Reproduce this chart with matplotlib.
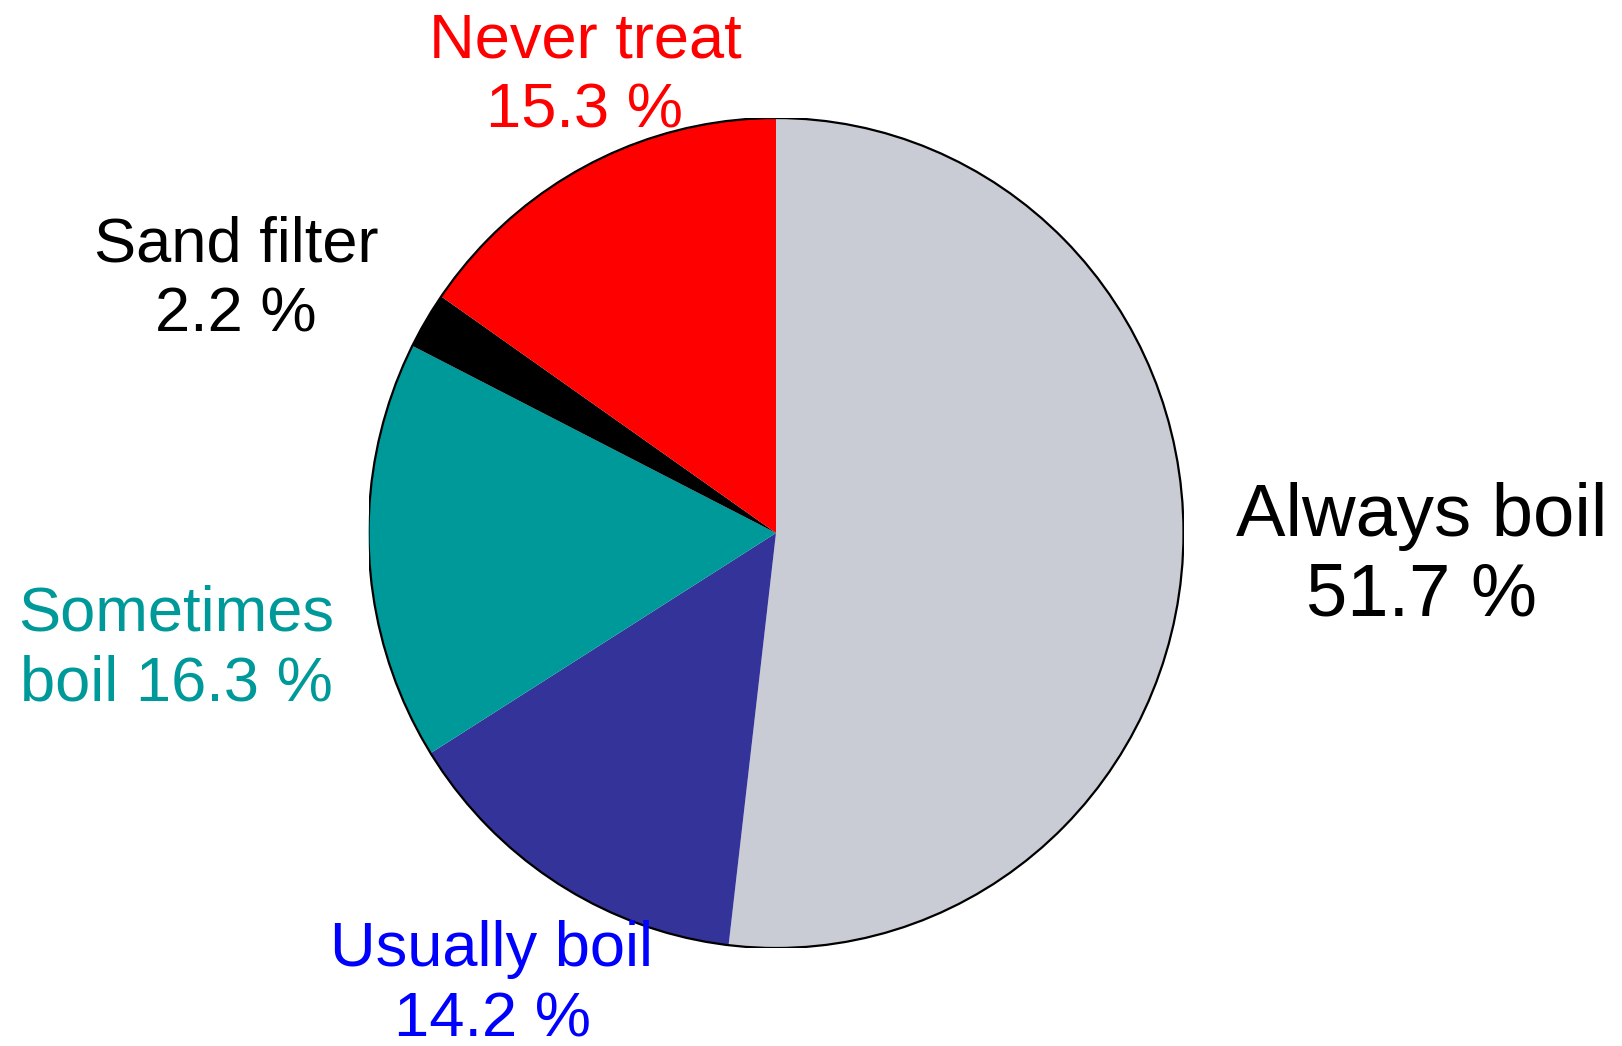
import matplotlib
matplotlib.use("Agg")
import matplotlib.pyplot as plt
from matplotlib.patches import Ellipse

plt.rcParams['font.family'] = ['Liberation Sans', 'DejaVu Sans']

categories = ["Always boil", "Usually boil", "Sometimes boil", "Sand filter", "Never treat"]
values = [51.7, 14.2, 16.3, 2.2, 15.3]
wedge_colors = ["#C9CCD4", "#333399", "#009999", "#000000", "#FF0000"]
label_texts = ["Always boil\n51.7 %", "Usually boil\n14.2 %", "Sometimes\nboil 16.3 %",
               "Sand filter\n2.2 %", "Never treat\n15.3 %"]
label_colors = ["#000000", "#0000FF", "#009999", "#000000", "#FF0000"]
label_sizes = [53.5, 45.5, 45.5, 45.5, 45.5]
label_spacing = [1.2, 1.25, 1.25, 1.25, 1.25]
# label centre positions in pixels (full image)
label_px = [(1422, 556), (492, 985), (176, 649), (236, 280), (585, 76)]

W, H = 1622, 1046
cx, cy, rx, ry = 776, 533, 407.5, 415

fig = plt.figure(figsize=(W / 100, H / 100), dpi=100)
ax = fig.add_axes([(cx - rx) / W, (H - cy - ry) / H, 2 * rx / W, 2 * ry / H])
ax.pie(values, colors=wedge_colors, startangle=90, counterclock=False,
       wedgeprops=dict(linewidth=0), radius=1.0)
ax.add_patch(Ellipse((0, 0), 2, 2, fill=False, edgecolor='black', linewidth=1.6, zorder=5))
ax.set_aspect('auto')
ax.set_xlim(-1, 1)
ax.set_ylim(-1, 1)
ax.axis('off')

for txt, col, fs, ls, (px, py) in zip(label_texts, label_colors, label_sizes, label_spacing, label_px):
    x = (px - cx) / rx
    y = (cy - py) / ry
    ax.text(x, y, txt, color=col, fontsize=fs, ha='center', va='center',
            multialignment='center', linespacing=ls, clip_on=False, zorder=6)

fig.savefig("out.png", dpi=100)
